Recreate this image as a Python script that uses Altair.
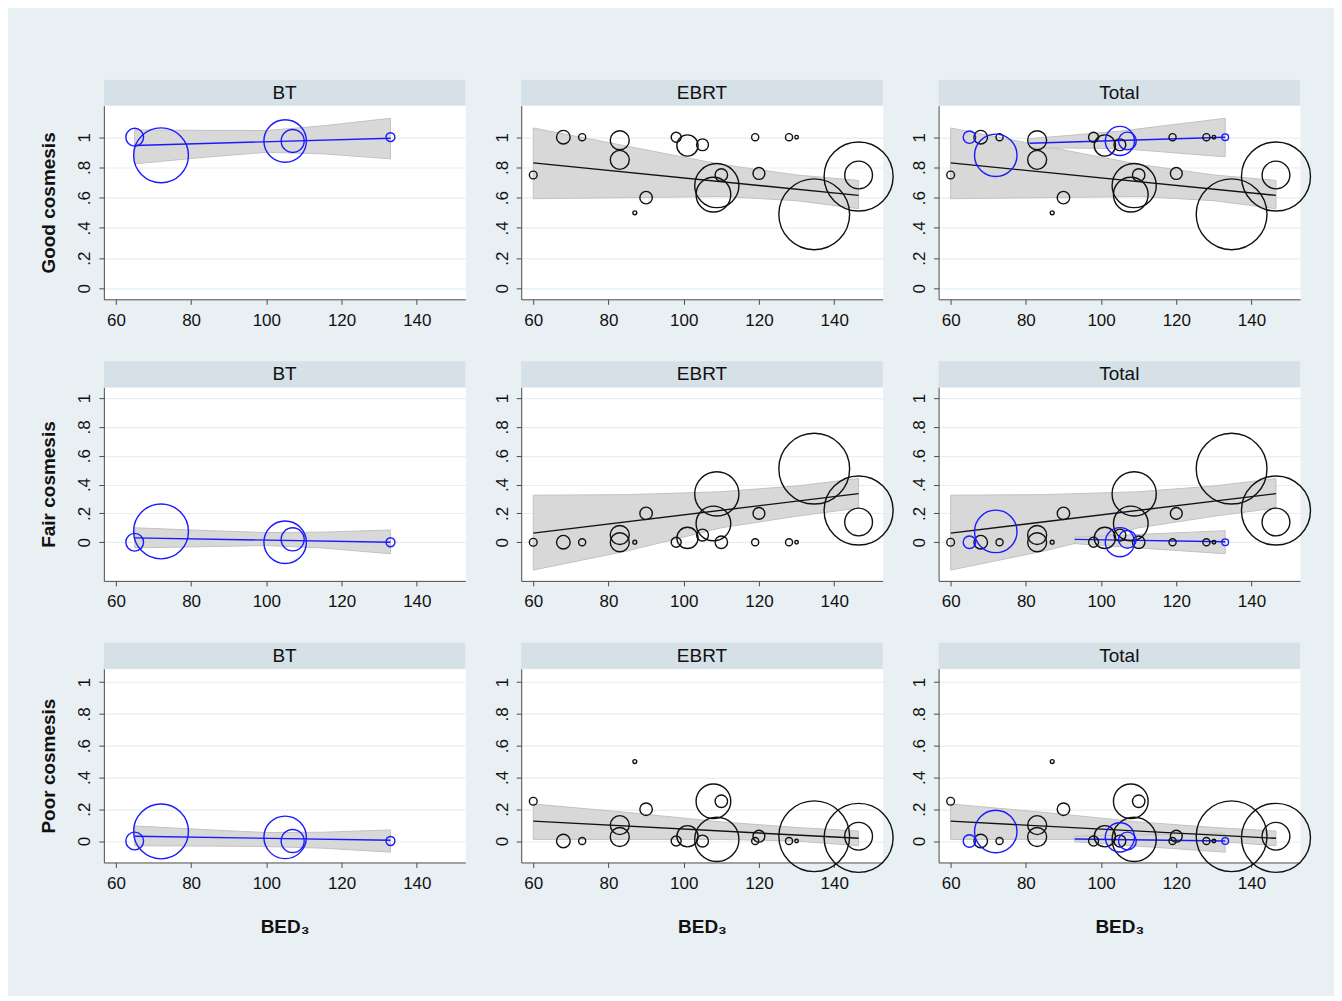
import altair as alt
import pandas as pd

# ---------------- data ----------------
outcome_keys = ["good", "fair", "poor"]
outcome_titles = ["Good cosmesis", "Fair cosmesis", "Poor cosmesis"]
group_names = ["BT", "EBRT", "Total"]
x_ticks = [60, 80, 100, 120, 140]
y_ticks = [0, 0.2, 0.4, 0.6, 0.8, 1]

# Brachytherapy (BT) studies
bt_bed = [65, 72, 105, 107, 133]
bt_good = [1.0, 0.88, 0.975, 0.975, 1.0]
bt_fair = [0.0, 0.075, 0.0, 0.02, 0.0]
bt_poor = [0.0, 0.06, 0.023, 0.0, 0.0]
bt_weight = [6.3, 60, 36, 10.6, 1.6]          # relative weight, BT panel
bt_weight_total = [3.1, 36, 17, 6.3, 0.9]      # relative weight, Total panel

# External-beam (EBRT) studies
ebrt_bed = [60, 68, 73, 83, 83, 87, 90, 98, 101, 105, 108.8, 107.9, 110, 119, 120, 128, 130, 134.7, 146.5, 146.5]
ebrt_good = [0.75, 1.0, 1.0, 0.98, 0.85, 0.5, 0.6, 1.0, 0.945, 0.95, 0.68, 0.62, 0.75, 1.0, 0.76, 1.0, 1.0, 0.49, 0.74, 0.75]
ebrt_fair = [0, 0, 0, 0, 0.05, 0, 0.2, 0, 0.03, 0.05, 0.335, 0.13, 0, 0, 0.2, 0, 0, 0.51, 0.22, 0.14]
ebrt_poor = [0.25, 0, 0, 0.025, 0.1, 0.5, 0.2, 0, 0.03, 0, 0.01, 0.25, 0.25, 0, 0.03, 0, 0, 0.03, 0.02, 0.03]
ebrt_weight = [1.2, 3.7, 1.0, 7.2, 7.2, 0.3, 3.1, 2.0, 9.0, 2.8, 39, 24, 3.1, 1.0, 2.8, 1.0, 0.25, 100, 95, 15.4]

# BT meta-regression fit and 95% band
bt_fit_x = [65, 133]
bt_fit_good = [0.945, 0.993]
bt_fit_fair = [0.03, 0.0]
bt_fit_poor = [0.03, 0.005]
bt_band_x = [65, 85, 100, 115, 133]
bt_band_good_lo = [0.824, 0.87, 0.90, 0.89, 0.857]
bt_band_good_hi = [1.048, 1.045, 1.044, 1.075, 1.125]
bt_band_fair_lo = [-0.04, -0.03, -0.023, -0.04, -0.08]
bt_band_fair_hi = [0.10, 0.08, 0.067, 0.07, 0.085]
bt_band_poor_lo = [-0.03, -0.032, -0.035, -0.045, -0.07]
bt_band_poor_hi = [0.095, 0.07, 0.053, 0.055, 0.07]

# EBRT meta-regression fit and 95% band
ebrt_fit_x = [60, 146.5]
ebrt_fit_good = [0.83, 0.615]
ebrt_fit_fair = [0.063, 0.337]
ebrt_fit_poor = [0.125, 0.017]
ebrt_band_x = [60, 85, 110, 130, 146.5]
ebrt_band_good_lo = [0.593, 0.60, 0.608, 0.58, 0.527]
ebrt_band_good_hi = [1.061, 0.94, 0.82, 0.75, 0.714]
ebrt_band_fair_lo = [-0.193, -0.06, 0.10, 0.18, 0.237]
ebrt_band_fair_hi = [0.326, 0.33, 0.35, 0.39, 0.442]
ebrt_band_poor_lo = [0.01, 0.01, 0.01, 0.0, -0.03]
ebrt_band_poor_hi = [0.233, 0.18, 0.12, 0.085, 0.0625]

# BT fit as drawn in the Total panels
tbt_fit_x_good = [81, 133]
tbt_fit_good = [0.96, 1.0]
tbt_fit_x_fair = [93, 133]
tbt_fit_fair = [0.02, 0.003]
tbt_fit_x_poor = [93, 133]
tbt_fit_poor = [0.0125, 0.0]
tbt_band_x_good = [81, 105, 133]
tbt_band_good_lo = [0.93, 0.925, 0.87]
tbt_band_good_hi = [0.99, 1.04, 1.125]
tbt_band_x_fair = [93, 133]
tbt_band_fair_lo = [-0.01, -0.08]
tbt_band_fair_hi = [0.035, 0.08]
tbt_band_x_poor = [93, 133]
tbt_band_poor_lo = [-0.005, -0.07]
tbt_band_poor_hi = [0.03, 0.05]

# ---------------- tables ----------------
bt_df = pd.DataFrame({"bed": bt_bed, "good": bt_good, "fair": bt_fair, "poor": bt_poor,
                      "w": bt_weight, "wt": bt_weight_total})
ebrt_df = pd.DataFrame({"bed": ebrt_bed, "good": ebrt_good, "fair": ebrt_fair, "poor": ebrt_poor,
                        "w": ebrt_weight})
bt_fit_df = pd.DataFrame({"bed": bt_fit_x, "good": bt_fit_good, "fair": bt_fit_fair, "poor": bt_fit_poor})
ebrt_fit_df = pd.DataFrame({"bed": ebrt_fit_x, "good": ebrt_fit_good, "fair": ebrt_fit_fair, "poor": ebrt_fit_poor})
bt_band_df = pd.DataFrame({"bed": bt_band_x,
                           "good_lo": bt_band_good_lo, "good_hi": bt_band_good_hi,
                           "fair_lo": bt_band_fair_lo, "fair_hi": bt_band_fair_hi,
                           "poor_lo": bt_band_poor_lo, "poor_hi": bt_band_poor_hi})
ebrt_band_df = pd.DataFrame({"bed": ebrt_band_x,
                             "good_lo": ebrt_band_good_lo, "good_hi": ebrt_band_good_hi,
                             "fair_lo": ebrt_band_fair_lo, "fair_hi": ebrt_band_fair_hi,
                             "poor_lo": ebrt_band_poor_lo, "poor_hi": ebrt_band_poor_hi})
tbt_fit = {
    "good": pd.DataFrame({"bed": tbt_fit_x_good, "good": tbt_fit_good}),
    "fair": pd.DataFrame({"bed": tbt_fit_x_fair, "fair": tbt_fit_fair}),
    "poor": pd.DataFrame({"bed": tbt_fit_x_poor, "poor": tbt_fit_poor}),
}
tbt_band = {
    "good": pd.DataFrame({"bed": tbt_band_x_good, "good_lo": tbt_band_good_lo, "good_hi": tbt_band_good_hi}),
    "fair": pd.DataFrame({"bed": tbt_band_x_fair, "fair_lo": tbt_band_fair_lo, "fair_hi": tbt_band_fair_hi}),
    "poor": pd.DataFrame({"bed": tbt_band_x_poor, "poor_lo": tbt_band_poor_lo, "poor_hi": tbt_band_poor_hi}),
}

# ---------------- style ----------------
FONT = "Liberation Sans"
BG = "#E9F0F3"
HEADER = "#D5E1E7"
GRID = "#E6EEF1"
AXIS_COLOR = "#4a4a4a"
TEXT = "#111111"
BLUE = "#1a1aff"
BLACK = "#111111"
BAND_FILL = "#D8D8D8"
BAND_STROKE = "#C2C2C2"
W, H = 362, 194
X_DOMAIN = [56.8, 152.9]
Y_DOMAINS = {"good": [-0.0725, 1.209], "fair": [-0.268, 1.075], "poor": [-0.135, 1.084]}
SIZE_SCALE = alt.Scale(domain=[0, 100], range=[0, 5027])


def panel(row, col):
    key = outcome_keys[row]
    group = group_names[col]
    xscale = alt.Scale(domain=X_DOMAIN, nice=False, zero=False)
    yscale = alt.Scale(domain=Y_DOMAINS[key], nice=False, zero=False)
    x_axis = alt.Axis(values=x_ticks, grid=False, domainColor=AXIS_COLOR, tickColor=AXIS_COLOR,
                      tickSize=5, labelFont=FONT, labelFontSize=17, labelColor=TEXT, labelPadding=8,
                      title=("BED₃" if row == 2 else None), titleFont=FONT, titleFontSize=19,
                      titleFontWeight="bold", titleColor=TEXT, titlePadding=26)
    y_axis = alt.Axis(values=y_ticks, grid=True, gridColor=GRID, gridWidth=1.2,
                      domainColor=AXIS_COLOR, tickColor=AXIS_COLOR, tickSize=5,
                      labelAngle=270, labelFont=FONT, labelFontSize=17, labelColor=TEXT,
                      labelPadding=5,
                      labelExpr="replace(format(datum.value, '.1~f'), '0.', '.')",
                      title=(outcome_titles[row] if col == 0 else None), titleFont=FONT,
                      titleFontSize=19, titleFontWeight="bold", titleColor=TEXT, titlePadding=17)

    def X():
        return alt.X("bed:Q", scale=xscale, axis=x_axis)

    def Y(field):
        return alt.Y(f"{field}:Q", scale=yscale, axis=y_axis)

    def band(df):
        return alt.Chart(df).mark_area(color=BAND_FILL, stroke=BAND_STROKE, strokeWidth=1).encode(
            x=X(), y=Y(f"{key}_lo"), y2=alt.Y2(f"{key}_hi"))

    def fit(df, color):
        return alt.Chart(df).mark_line(color=color, strokeWidth=1.4).encode(x=X(), y=Y(key))

    def bubbles(df, wfield, color):
        return alt.Chart(df).mark_point(shape="circle", filled=False, color=color, strokeWidth=1.4,
                                        opacity=1).encode(
            x=X(), y=Y(key), size=alt.Size(f"{wfield}:Q", scale=SIZE_SCALE, legend=None))

    hdr = pd.DataFrame({"label": [group]})
    header_rect = alt.Chart(hdr).mark_rect(color=HEADER).encode(
        x=alt.value(0), x2=alt.value(W), y=alt.value(-26), y2=alt.value(0))
    header_text = alt.Chart(hdr).mark_text(font=FONT, fontSize=19, color=TEXT).encode(
        x=alt.value(W / 2), y=alt.value(-13), text="label:N")

    if group == "BT":
        layers = [band(bt_band_df), fit(bt_fit_df, BLUE), bubbles(bt_df, "w", BLUE)]
    elif group == "EBRT":
        layers = [band(ebrt_band_df), fit(ebrt_fit_df, BLACK), bubbles(ebrt_df, "w", BLACK)]
    else:
        layers = [band(ebrt_band_df), band(tbt_band[key]),
                  fit(ebrt_fit_df, BLACK), fit(tbt_fit[key], BLUE),
                  bubbles(ebrt_df, "w", BLACK), bubbles(bt_df, "wt", BLUE)]

    return alt.layer(header_rect, header_text, *layers).properties(width=W, height=H)


panels = [panel(r, c) for r in range(3) for c in range(3)]

chart = alt.concat(*panels, columns=3, spacing={"row": 88, "column": 56}, bounds="flush").properties(
    background=BG,
    padding={"left": 31, "top": 70, "right": 20, "bottom": 58},
).configure_view(fill="white", stroke="transparent")

chart.save("out.html", embed_options={"renderer": "svg", "actions": False})
